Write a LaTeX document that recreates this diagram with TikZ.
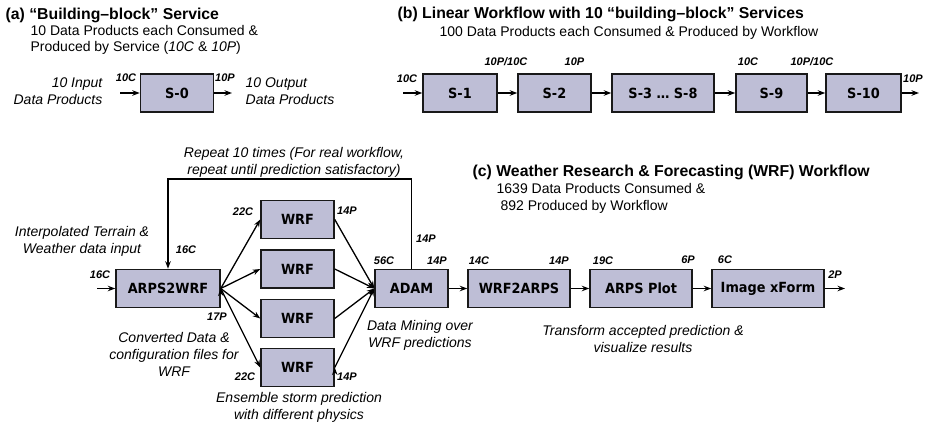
\documentclass[tikz,border=0pt]{standalone}
\usepackage{fontspec}
\setmainfont{Liberation Sans}
\newfontfamily\boxfont{DejaVu Sans}[FakeStretch=0.92]
\usetikzlibrary{arrows.meta, positioning}
\definecolor{boxfill}{RGB}{190,190,214}
\tikzset{
	->, % every connector is directed
	>={Stealth[length=7.5pt,width=5.5pt]}, % small filled heads
	x=1pt, y=-1pt, % one unit is one pixel of the page, y going down
	service/.style={draw=black!90, line width=1.5pt, fill=boxfill, minimum width=73pt, minimum height=38pt, inner sep=0pt, font=\boxfont\bfseries\fontsize{14}{16}\selectfont}, % a service box
	tally/.style={inner sep=0pt, font=\bfseries\itshape\fontsize{11}{12}\selectfont}, % consumed / produced counts
	note/.style={inner sep=0pt, align=center, font=\itshape\fontsize{14}{17}\selectfont},
	heading/.style={inner sep=0pt, anchor=west, font=\bfseries\fontsize{15.8}{17}\selectfont},
	subhead/.style={inner sep=0pt, anchor=west, align=left, font=\fontsize{14}{16.5}\selectfont},
}

\begin{document}
\begin{tikzpicture}[line width=1.3pt]
	\useasboundingbox (0,0) rectangle (932,427);

	% (a) building block
	\node[heading] (ta) at (5,15) {(a) “Building–block” Service};
	\node[subhead] (sa) at (30,40) {10 Data Products each Consumed \&\\ Produced by Service (\textit{10C} \& \textit{10P})};
	\node[service] (s0) at (177,93) {S-0};
	\coordinate (s0in) at (120,93);
	\coordinate (s0out) at (232,93);
	\node[tally] (c0) at (126,78) {10C};
	\node[tally] (p0) at (225,78) {10P};
	\node[note, align=right, anchor=east] (inp) at (103,91) {10 Input\\Data Products};
	\node[note, align=left, anchor=west] (outp) at (245,91) {10 Output\\Data Products};
	\draw (s0in) -- (s0);
	\draw (s0) -- (s0out);

	% (b) linear workflow
	\node[heading] (tb) at (397,14) {(b) Linear Workflow with 10 “building–block” Services};
	\node[subhead] (sb) at (439,33) {100 Data Products each Consumed \& Produced by Workflow};
	\node[service, minimum width=74pt] (s1) at (460,93) {S-1};
	\node[service] (s2) at (554.5,93) {S-2};
	\node[service, minimum width=102pt] (s38) at (663,93) {S-3 … S-8};
	\node[service, minimum width=71pt] (s9) at (771.5,93) {S-9};
	\node[service, minimum width=75pt] (s10) at (863.5,93) {S-10};
	\coordinate (s1in) at (403,93);
	\coordinate (s10out) at (919,93);
	\node[tally] (b1c) at (407,79) {10C};
	\node[tally] (b1p) at (506,62) {10P/10C};
	\node[tally] (b2p) at (574.5,62) {10P};
	\node[tally] (b9c) at (748,62) {10C};
	\node[tally] (b9p) at (812,62) {10P/10C};
	\node[tally] (b10p) at (913,79) {10P};
	\draw (s1in) -- (s1);
	\draw (s1) -- (s2);
	\draw (s2) -- (s38);
	\draw (s38) -- (s9);
	\draw (s9) -- (s10);
	\draw (s10) -- (s10out);

	% (c) WRF workflow
	\node[heading] (tc) at (472,172) {(c) Weather Research \& Forecasting (WRF) Workflow};
	\node[subhead] (sc) at (496,198.5) {1639 Data Products Consumed \&\\ \hspace{4pt}892 Produced by Workflow};
	\node[service, minimum width=104pt] (a2w) at (168,288.5) {ARPS2WRF};
	\node[service] (wrf1) at (297.5,219.5) {WRF};
	\node[service] (wrf2) at (297.5,269) {WRF};
	\node[service] (wrf3) at (297.5,318.5) {WRF};
	\node[service] (wrf4) at (297.5,367.5) {WRF};
	\node[service] (adam) at (411.5,288.5) {ADAM};
	\node[service, minimum width=102pt] (w2a) at (519,288.5) {WRF2ARPS};
	\node[service, minimum width=102pt] (plot) at (641,288.5) {ARPS Plot};
	\node[service, minimum width=112pt] (xform) at (768,288.5) {Image xForm};
	\coordinate (a2win) at (97,288.5);
	\coordinate (xfout) at (845,288.5);
	\coordinate (loopL) at (168,179);

	\node[tally] (c16a) at (100,275) {16C};
	\node[tally] (c16b) at (186,250) {16C};
	\node[tally] (p17) at (217,317) {17P};
	\node[tally] (c22a) at (243,212) {22C};
	\node[tally] (p14a) at (347,211) {14P};
	\node[tally] (c22b) at (245,377) {22C};
	\node[tally] (p14b) at (347,377) {14P};
	\node[tally] (c56) at (384,261) {56C};
	\node[tally] (p14c) at (437,261) {14P};
	\node[tally] (p14d) at (426,239) {14P};
	\node[tally] (c14) at (479,261) {14C};
	\node[tally] (p14e) at (559,261) {14P};
	\node[tally] (c19) at (603,261) {19C};
	\node[tally] (p6) at (688,260) {6P};
	\node[tally] (c6) at (725,260) {6C};
	\node[tally] (p2) at (835,275) {2P};

	\node[note] (rep) at (294,162) {Repeat 10 times (For real workflow,\\ repeat until prediction satisfactory)};
	\node[note] (terr) at (82,241.5) {Interpolated Terrain \&\\Weather data input};
	\node[note] (conv) at (174,354) {Converted Data \&\\configuration files for\\WRF};
	\node[note] (ens) at (299,407.5) {Ensemble storm prediction\\with different physics};
	\node[note] (mine) at (420,335.5) {Data Mining over\\WRF predictions};
	\node[note] (trans) at (643,338.5) {Transform accepted prediction \&\\visualize results};

	\draw (a2win) -- (a2w);
	\draw (a2w.east) edge (wrf1.west) edge (wrf2.west) edge (wrf3.west) edge (wrf4.west);
	\draw (wrf1.east) edge (adam.west)
		(wrf2.east) edge (adam.west)
		(wrf3.east) edge (adam.west)
		(wrf4.east) edge (adam.west);
	\draw (adam.north) |- (loopL) -- (a2w.north);
	\draw (adam) -- (w2a);
	\draw (w2a) -- (plot);
	\draw (plot) -- (xform);
	\draw (xform) -- (xfout);
\end{tikzpicture}
\end{document}
